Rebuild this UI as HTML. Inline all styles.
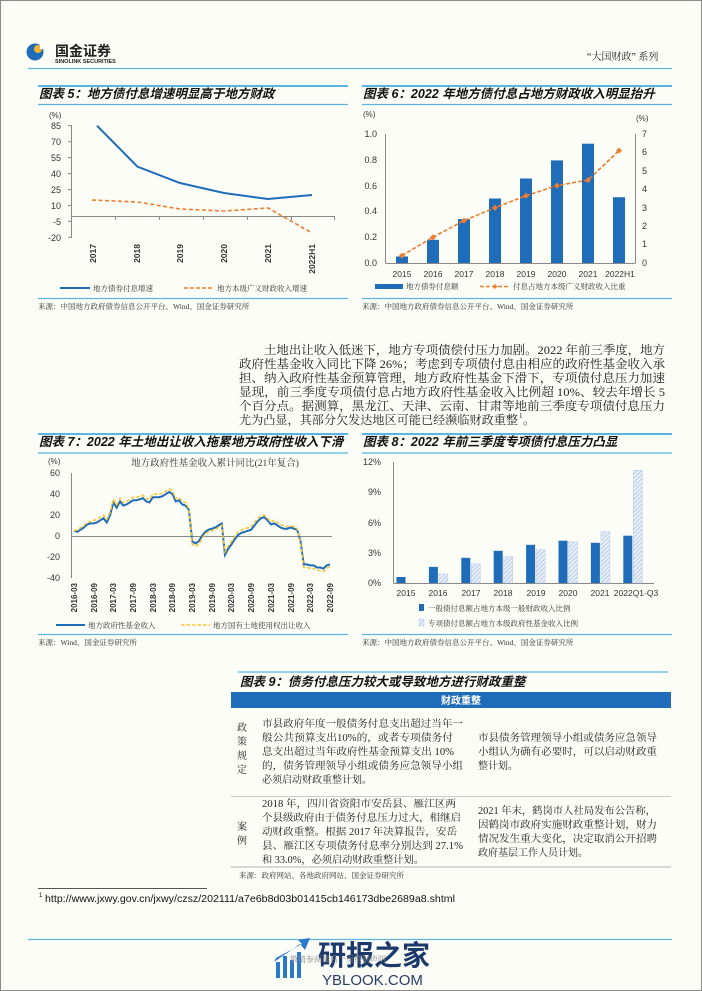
<!DOCTYPE html>
<html><head><meta charset="utf-8"><style>
html,body{margin:0;padding:0;background:#fdfdf8;}
svg{display:block}
.t{font-family:"Liberation Serif","Noto Serif CJK SC",serif;fill:#222}
.s{font-family:"Liberation Sans","Noto Sans CJK SC",sans-serif;fill:#333}
.ti{font-family:"Liberation Sans","Noto Sans CJK SC",sans-serif;font-weight:bold;font-style:italic;fill:#111;font-size:12.5px}
.ax{font-family:"Liberation Sans",sans-serif;font-size:9px;fill:#333}
.sm{font-family:"Liberation Serif","Noto Serif CJK SC",serif;font-size:7.5px;fill:#333}
</style></head><body>
<svg width="702" height="991" viewBox="0 0 702 991" xmlns="http://www.w3.org/2000/svg">
<defs>
<pattern id="hat" width="3" height="3" patternUnits="userSpaceOnUse" patternTransform="rotate(45)">
<rect width="3" height="3" fill="#e8eef8"/><line x1="0" y1="0" x2="0" y2="3" stroke="#9fb9df" stroke-width="1.2"/></pattern>
</defs>
<rect x="0.5" y="0.5" width="701" height="990" fill="#fdfdf8" stroke="#8a8a8a"/>
<!-- header -->
<circle cx="35" cy="52" r="8.5" fill="#1f6cb8"/><circle cx="38" cy="49" r="4" fill="#f2b233"/><rect x="40" y="43" width="4" height="6" fill="#fdfdf8"/>
<text x="55" y="56" class="s" style="font-size:14px;font-weight:bold;fill:#222">国金证券</text>
<text x="55" y="63" class="s" style="font-size:5.5px;font-weight:bold;fill:#222">SINOLINK SECURITIES</text>
<text x="587" y="60" class="t" style="font-size:10px">“大国财政” 系列</text>
<line x1="28" y1="68.5" x2="672" y2="68.5" stroke="#5ab4e5" stroke-width="1.2"/>

<!-- chart 5 -->
<line x1="38" y1="86" x2="348" y2="86" stroke="#5ab4e5" stroke-width="2"/>
<text x="39" y="98" class="ti">图表 5：地方债付息增速明显高于地方财政</text>
<line x1="38" y1="104.5" x2="348" y2="104.5" stroke="#5ab4e5" stroke-width="1.2"/>
<text x="49" y="118" class="ax" style="font-size:8px">(%)</text>
<g class="ax" text-anchor="end">
<text x="61" y="129">85</text><text x="61" y="145">70</text><text x="61" y="161">55</text><text x="61" y="177">40</text><text x="61" y="193">25</text><text x="61" y="209">10</text><text x="61" y="225">-5</text><text x="61" y="241">-20</text></g>
<line x1="71.5" y1="125" x2="71.5" y2="238" stroke="#888"/>
<g stroke="#888"><line x1="68" y1="125.7" x2="71.5" y2="125.7"/><line x1="68" y1="141.7" x2="71.5" y2="141.7"/><line x1="68" y1="157.6" x2="71.5" y2="157.6"/><line x1="68" y1="173.6" x2="71.5" y2="173.6"/><line x1="68" y1="189.6" x2="71.5" y2="189.6"/><line x1="68" y1="205.5" x2="71.5" y2="205.5"/><line x1="68" y1="221.4" x2="71.5" y2="221.4"/><line x1="68" y1="237.3" x2="71.5" y2="237.3"/></g>
<line x1="71.5" y1="216.5" x2="335" y2="216.5" stroke="#888"/>
<g stroke="#888"><line x1="115.5" y1="216.5" x2="115.5" y2="220"/><line x1="159.5" y1="216.5" x2="159.5" y2="220"/><line x1="203.5" y1="216.5" x2="203.5" y2="220"/><line x1="247.5" y1="216.5" x2="247.5" y2="220"/><line x1="291.5" y1="216.5" x2="291.5" y2="220"/><line x1="334.5" y1="216.5" x2="334.5" y2="220"/></g>
<g class="ax" text-anchor="end" style="font-weight:bold;font-size:8.5px">
<text transform="translate(96,244) rotate(-90)">2017</text><text transform="translate(140,244) rotate(-90)">2018</text><text transform="translate(183,244) rotate(-90)">2019</text><text transform="translate(227,244) rotate(-90)">2020</text><text transform="translate(271,244) rotate(-90)">2021</text><text transform="translate(315,244) rotate(-90)">2022H1</text></g>
<polyline points="97,125.7 137.5,166.7 180,183 224,193 268,199 312,195" fill="none" stroke="#1f6cb8" stroke-width="2"/>
<polyline points="92,200 137.5,202 180,209 224,211 268,208 312,233" fill="none" stroke="#ed7d31" stroke-width="1.6" stroke-dasharray="4,2.5"/>
<line x1="60" y1="288" x2="90" y2="288" stroke="#1f6cb8" stroke-width="2"/>
<text x="93" y="291" class="sm">地方债券付息增速</text>
<line x1="184" y1="288" x2="214" y2="288" stroke="#ed7d31" stroke-width="1.6" stroke-dasharray="4,2"/>
<text x="217" y="291" class="sm">地方本级广义财政收入增速</text>
<line x1="38" y1="298.5" x2="348" y2="298.5" stroke="#5ab4e5" stroke-width="1.2"/>
<text x="38" y="309" class="sm">来源：中国地方政府债券信息公开平台、Wind、国金证券研究所</text>

<!-- chart 6 -->
<line x1="362" y1="86" x2="672" y2="86" stroke="#5ab4e5" stroke-width="2"/>
<text x="363" y="98" class="ti">图表 6：2022 年地方债付息占地方财政收入明显抬升</text>
<line x1="362" y1="104.5" x2="672" y2="104.5" stroke="#5ab4e5" stroke-width="1.2"/>
<text x="363" y="117" class="ax" style="font-size:8px">(%)</text>
<text x="636" y="121" class="ax" style="font-size:8px">(%)</text>
<g class="ax" text-anchor="end"><text x="377" y="137">1.0</text><text x="377" y="163">0.8</text><text x="377" y="189">0.6</text><text x="377" y="214">0.4</text><text x="377" y="240">0.2</text><text x="377" y="266">0.0</text></g>
<g class="ax"><text x="642" y="137">7</text><text x="642" y="155">6</text><text x="642" y="174">5</text><text x="642" y="192">4</text><text x="642" y="211">3</text><text x="642" y="229">2</text><text x="642" y="247">1</text><text x="642" y="266">0</text></g>
<line x1="385.5" y1="134" x2="385.5" y2="263" stroke="#888"/>
<line x1="635.5" y1="134" x2="635.5" y2="263" stroke="#888"/>
<line x1="385.5" y1="263.5" x2="635.5" y2="263.5" stroke="#888"/>
<g fill="#1f6cb8"><rect x="396" y="256.5" width="12" height="6.5"/><rect x="427" y="239.8" width="12" height="23.2"/><rect x="458" y="219.1" width="12" height="43.9"/><rect x="489" y="198.5" width="12" height="64.5"/><rect x="520" y="178.5" width="12" height="84.5"/><rect x="551" y="160.4" width="12" height="102.6"/><rect x="582" y="143.7" width="12" height="119.3"/><rect x="613" y="197.2" width="12" height="65.8"/></g>
<polyline points="402,255.6 433,237.2 464,220.6 495,207.7 526,195.7 557,185.6 588,180.1 619,150.6" fill="none" stroke="#ed7d31" stroke-width="1.6" stroke-dasharray="4,2"/>
<g fill="#ed7d31"><path d="M402 252.6l3 3-3 3-3-3z"/><path d="M433 234.2l3 3-3 3-3-3z"/><path d="M464 217.6l3 3-3 3-3-3z"/><path d="M495 204.7l3 3-3 3-3-3z"/><path d="M526 192.7l3 3-3 3-3-3z"/><path d="M557 182.6l3 3-3 3-3-3z"/><path d="M588 177.1l3 3-3 3-3-3z"/><path d="M619 147.6l3 3-3 3-3-3z"/></g>
<g class="ax" text-anchor="middle" style="font-size:8.5px"><text x="402" y="277">2015</text><text x="433" y="277">2016</text><text x="464" y="277">2017</text><text x="495" y="277">2018</text><text x="526" y="277">2019</text><text x="557" y="277">2020</text><text x="588" y="277">2021</text><text x="620" y="277">2022H1</text></g>
<rect x="375" y="284" width="28" height="5" fill="#1f6cb8"/>
<text x="406" y="289" class="sm">地方债券付息额</text>
<line x1="480" y1="286.5" x2="510" y2="286.5" stroke="#ed7d31" stroke-width="1.6" stroke-dasharray="4,2"/><path d="M495 284l2.5 2.5-2.5 2.5-2.5-2.5z" fill="#ed7d31"/>
<text x="513" y="289" class="sm">付息占地方本级广义财政收入比重</text>
<line x1="362" y1="298.5" x2="672" y2="298.5" stroke="#5ab4e5" stroke-width="1.2"/>
<text x="362" y="309" class="sm">来源：中国地方政府债券信息公开平台、Wind、国金证券研究所</text>

<!-- body text -->
<g class="t" style="font-size:12px">
<text x="264" y="354" textLength="401" lengthAdjust="spacingAndGlyphs">土地出让收入低迷下，地方专项债偿付压力加剧。2022 年前三季度，地方</text>
<text x="239" y="368" textLength="426" lengthAdjust="spacingAndGlyphs">政府性基金收入同比下降 26%；考虑到专项债付息由相应的政府性基金收入承</text>
<text x="239" y="382" textLength="426" lengthAdjust="spacingAndGlyphs">担、纳入政府性基金预算管理，地方政府性基金下滑下，专项债付息压力加速</text>
<text x="239" y="396" textLength="426" lengthAdjust="spacingAndGlyphs">显现，前三季度专项债付息占地方政府性基金收入比例超 10%、较去年增长 5</text>
<text x="239" y="410" textLength="426" lengthAdjust="spacingAndGlyphs">个百分点。据测算，黑龙江、天津、云南、甘肃等地前三季度专项债付息压力</text>
<text x="239" y="424" textLength="279" lengthAdjust="spacingAndGlyphs">尤为凸显，其部分欠发达地区可能已经濒临财政重整</text>
<text x="519" y="418" style="font-size:7px">1</text><text x="523" y="424">。</text>
</g>

<!-- chart 7 -->
<line x1="38" y1="434" x2="348" y2="434" stroke="#5ab4e5" stroke-width="2"/>
<text x="39" y="446" class="ti">图表 7：2022 年土地出让收入拖累地方政府性收入下滑</text>
<line x1="38" y1="453" x2="348" y2="453" stroke="#5ab4e5" stroke-width="1.2"/>
<text x="48" y="464" class="ax" style="font-size:8px">(%)</text>
<text x="215" y="466" class="sm" text-anchor="middle" style="font-size:9.5px">地方政府性基金收入累计同比(21年复合)</text>
<g class="ax" text-anchor="end"><text x="60" y="476">60</text><text x="60" y="497">40</text><text x="60" y="518">20</text><text x="60" y="539">0</text><text x="60" y="560">-20</text><text x="60" y="581">-40</text></g>
<line x1="71.5" y1="473" x2="71.5" y2="578" stroke="#888"/>
<line x1="71.5" y1="536.5" x2="332" y2="536.5" stroke="#888"/>
<g class="ax" text-anchor="end" style="font-weight:bold;font-size:8px">
<text transform="translate(77,583) rotate(-90)">2016-03</text><text transform="translate(97,583) rotate(-90)">2016-09</text><text transform="translate(116,583) rotate(-90)">2017-03</text><text transform="translate(136,583) rotate(-90)">2017-09</text><text transform="translate(156,583) rotate(-90)">2018-03</text><text transform="translate(175,583) rotate(-90)">2018-09</text><text transform="translate(195,583) rotate(-90)">2019-03</text><text transform="translate(215,583) rotate(-90)">2019-09</text><text transform="translate(234,583) rotate(-90)">2020-03</text><text transform="translate(254,583) rotate(-90)">2020-09</text><text transform="translate(274,583) rotate(-90)">2021-03</text><text transform="translate(294,583) rotate(-90)">2021-09</text><text transform="translate(313,583) rotate(-90)">2022-03</text><text transform="translate(333,583) rotate(-90)">2022-09</text></g>
<polyline id="b7" points="74,530.8 77.3,531.8 80.6,529.7 83.8,527.6 87.1,524.5 90.4,523.4 93.7,523.4 97,522.4 100.3,520.3 103.5,518.2 106.8,522.4 110.1,515 113.4,502.4 116.7,507.7 120,501.4 123.2,505.6 126.5,504.5 129.8,502.4 133.1,500.3 136.4,500.3 139.6,499.3 142.9,498.2 146.2,501.4 149.5,502.4 152.8,497.2 156,497.2 159.3,497.2 162.6,496.1 165.9,494 169.2,491.9 172.5,494 175.7,501.4 179,500.3 182.3,504.5 185.6,505.6 188.9,509.8 192.2,541.3 195.4,543.4 198.7,541.3 202,536 205.3,531.8 208.6,529.7 211.8,528.7 215.1,527.6 218.4,525.5 221.7,523.4 225,554.9 228.3,548.6 231.5,544.4 234.8,539.2 238.1,535 241.4,532.9 244.7,531.8 247.9,530.8 251.2,529.7 254.5,525.5 257.8,521.3 261.1,518.2 264.4,517.2 267.6,520.4 270.9,524.5 274.2,523.4 277.5,525.5 280.8,527.6 284,528.7 287.3,528.7 290.6,527.6 293.9,528.7 297.2,529.7 300.5,541.3 303.7,564.4 307,564.4 310.3,565.4 313.6,565.4 316.9,567.5 320.1,567.5 323.4,568.6 326.7,565.4 330,564.4" fill="none" stroke="#1f6cb8" stroke-width="2"/>
<polyline points="74,530.8 77.3,529.8 80.6,527.7 83.8,525.6 87.1,522.5 90.4,521.4 93.7,520.4 97,519.4 100.3,517.3 103.5,515.2 106.8,519.4 110.1,512 113.4,499.4 116.7,504.7 120,498.4 123.2,502.6 126.5,501.5 129.8,499.4 133.1,497.3 136.4,497.3 139.6,496.3 142.9,495.2 146.2,498.4 149.5,499.4 152.8,494.2 156,494.2 159.3,494.2 162.6,493.1 165.9,491 169.2,488.9 172.5,491 175.7,498.4 179,497.3 182.3,501.5 185.6,502.6 188.9,508.8 192.2,544.3 195.4,546.4 198.7,544.3 202,539 205.3,533.8 208.6,531.7 211.8,530.7 215.1,529.6 218.4,527.5 221.7,525.4 225,551.9 228.3,545.6 231.5,541.4 234.8,536.2 238.1,532 241.4,529.9 244.7,528.8 247.9,527.8 251.2,526.7 254.5,522.5 257.8,518.3 261.1,516.2 264.4,515.2 267.6,518.4 270.9,521.5 274.2,520.4 277.5,522.5 280.8,524.6 284,525.7 287.3,526.7 290.6,525.6 293.9,526.7 297.2,528.7 300.5,543.3 303.7,567.4 307,567.4 310.3,568.4 313.6,568.4 316.9,570.5 320.1,570.5 323.4,571.6 326.7,568.4 330,566.4" fill="none" stroke="#f7c531" stroke-width="1.6" stroke-dasharray="3.5,2"/>
<line x1="56" y1="625" x2="85" y2="625" stroke="#1f6cb8" stroke-width="2"/>
<text x="88" y="628" class="sm">地方政府性基金收入</text>
<line x1="181" y1="625" x2="210" y2="625" stroke="#f7c531" stroke-width="1.6" stroke-dasharray="3.5,2"/>
<text x="213" y="628" class="sm">地方国有土地使用权出让收入</text>
<line x1="38" y1="634.5" x2="348" y2="634.5" stroke="#5ab4e5" stroke-width="1.2"/>
<text x="38" y="645" class="sm">来源：Wind、国金证券研究所</text>

<!-- chart 8 -->
<line x1="362" y1="434" x2="672" y2="434" stroke="#5ab4e5" stroke-width="2"/>
<text x="363" y="446" class="ti">图表 8：2022 年前三季度专项债付息压力凸显</text>
<line x1="362" y1="453" x2="672" y2="453" stroke="#5ab4e5" stroke-width="1.2"/>
<g class="ax" text-anchor="end"><text x="381" y="465">12%</text><text x="381" y="495">9%</text><text x="381" y="526">6%</text><text x="381" y="556">3%</text><text x="381" y="586">0%</text></g>
<line x1="393.5" y1="462" x2="393.5" y2="583" stroke="#888"/>
<line x1="393.5" y1="583.5" x2="654" y2="583.5" stroke="#888"/>
<g fill="#1f6cb8"><rect x="396.5" y="577" width="9" height="6"/><rect x="428.9" y="566.9" width="9" height="16.1"/><rect x="461.3" y="557.8" width="9" height="25.2"/><rect x="493.7" y="550.8" width="9" height="32.2"/><rect x="526.1" y="544.8" width="9" height="38.2"/><rect x="558.5" y="540.7" width="9" height="42.3"/><rect x="590.9" y="542.8" width="9" height="40.2"/><rect x="623.3" y="535.7" width="9" height="47.3"/></g>
<g fill="url(#hat)" stroke="#b7c9e6" stroke-width="0.5"><rect x="438.9" y="573.9" width="9" height="9.1"/><rect x="471.3" y="563.9" width="9" height="19.1"/><rect x="503.7" y="556.8" width="9" height="26.2"/><rect x="536.1" y="549.8" width="9" height="33.2"/><rect x="568.5" y="541.8" width="9" height="41.2"/><rect x="600.9" y="531.7" width="9" height="51.3"/><rect x="633.3" y="470.3" width="9" height="112.7"/></g>
<g class="ax" text-anchor="middle" style="font-size:8.5px"><text x="406" y="596">2015</text><text x="438" y="596">2016</text><text x="471" y="596">2017</text><text x="503" y="596">2018</text><text x="536" y="596">2019</text><text x="568" y="596">2020</text><text x="600" y="596">2021</text><text x="636" y="596">2022Q1-Q3</text></g>
<rect x="419" y="604" width="5" height="7" fill="#1f6cb8"/>
<text x="428" y="611" class="sm">一般债付息额占地方本级一般财政收入比例</text>
<rect x="419" y="619" width="5" height="7" fill="url(#hat)" stroke="#b7c9e6" stroke-width="0.5"/>
<text x="428" y="626" class="sm">专项债付息额占地方本级政府性基金收入比例</text>
<line x1="362" y1="634.5" x2="672" y2="634.5" stroke="#5ab4e5" stroke-width="1.2"/>
<text x="362" y="645" class="sm">来源：中国地方政府债券信息公开平台、Wind、国金证券研究所</text>

<!-- table 9 -->
<line x1="238" y1="672" x2="668" y2="672" stroke="#5ab4e5" stroke-width="1.2"/>
<text x="240" y="686" class="ti">图表 9：债务付息压力较大或导致地方进行财政重整</text>
<rect x="231" y="692" width="440" height="16" fill="#1f6cb8"/>
<text x="461" y="704" class="s" text-anchor="middle" style="font-size:10px;font-weight:bold;fill:#fff">财政重整</text>
<g class="t" style="font-size:10px">
<text x="237" y="731">政</text><text x="237" y="745">策</text><text x="237" y="759">规</text><text x="237" y="773">定</text>
<text x="237" y="830">案</text><text x="237" y="844">例</text>
<text x="262" y="727" textLength="201" lengthAdjust="spacingAndGlyphs">市县政府年度一般债务付息支出超过当年一</text>
<text x="262" y="741" textLength="191" lengthAdjust="spacingAndGlyphs">般公共预算支出10%的，或者专项债务付</text>
<text x="262" y="755" textLength="192" lengthAdjust="spacingAndGlyphs">息支出超过当年政府性基金预算支出 10%</text>
<text x="262" y="769" textLength="201" lengthAdjust="spacingAndGlyphs">的，债务管理领导小组或债务应急领导小组</text>
<text x="262" y="783">必须启动财政重整计划。</text>
<text x="478" y="741" textLength="179" lengthAdjust="spacingAndGlyphs">市县债务管理领导小组或债务应急领导</text>
<text x="478" y="755" textLength="179" lengthAdjust="spacingAndGlyphs">小组认为确有必要时，可以启动财政重</text>
<text x="478" y="769">整计划。</text>
<text x="262" y="807" textLength="194" lengthAdjust="spacingAndGlyphs">2018 年，四川省资阳市安岳县、雁江区两</text>
<text x="262" y="821" textLength="199" lengthAdjust="spacingAndGlyphs">个县级政府由于债务付息压力过大，相继启</text>
<text x="262" y="835" textLength="195" lengthAdjust="spacingAndGlyphs">动财政重整。根据 2017 年决算报告，安岳</text>
<text x="262" y="849" textLength="201" lengthAdjust="spacingAndGlyphs">县、雁江区专项债务付息率分别达到 27.1%</text>
<text x="262" y="863" textLength="162" lengthAdjust="spacingAndGlyphs">和 33.0%，必须启动财政重整计划。</text>
<text x="478" y="814" textLength="178" lengthAdjust="spacingAndGlyphs">2021 年末，鹤岗市人社局发布公告称，</text>
<text x="478" y="828" textLength="179" lengthAdjust="spacingAndGlyphs">因鹤岗市政府实施财政重整计划，财力</text>
<text x="478" y="842" textLength="179" lengthAdjust="spacingAndGlyphs">情况发生重大变化，决定取消公开招聘</text>
<text x="478" y="856">政府基层工作人员计划。</text>
</g>
<line x1="231" y1="796.5" x2="671" y2="796.5" stroke="#ccc"/>
<line x1="231" y1="867" x2="671" y2="867" stroke="#ccc" stroke-width="1.5"/>
<text x="239" y="878" class="sm">来源：政府网站、各地政府网站、国金证券研究所</text>

<!-- footnote -->
<line x1="38" y1="888.5" x2="207" y2="888.5" stroke="#555"/>
<text x="39" y="897" class="s" style="font-size:6px;fill:#111">1</text>
<text x="45" y="902" class="s" style="font-size:10px;fill:#111" textLength="410" lengthAdjust="spacingAndGlyphs">http://www.jxwy.gov.cn/jxwy/czsz/202111/a7e6b8d03b01415cb146173dbe2689a8.shtml</text>

<line x1="28" y1="939.5" x2="672" y2="939.5" stroke="#5ab4e5" stroke-width="1.2"/>
<!-- watermark -->
<g fill="#2a78c8"><rect x="276" y="962" width="4" height="16"/><rect x="283" y="956" width="4" height="22"/><rect x="290" y="960" width="4" height="18"/><rect x="297" y="952" width="4" height="26"/><path d="M274 962 L300 944 L305 950 L310 938 L298 940 L302 944 L276 958z"/></g>
<text x="318" y="965" class="s" style="font-size:28px;font-weight:bold;fill:#1b3a6b">研报之家</text>
<text x="322" y="985" class="s" style="font-size:15px;fill:#2a3d66">YBLOOK.COM</text>
<text x="290" y="962" class="sm" style="font-size:8px;fill:#888">敬请参阅最后一页特别声明</text>
</svg>
</body></html>
